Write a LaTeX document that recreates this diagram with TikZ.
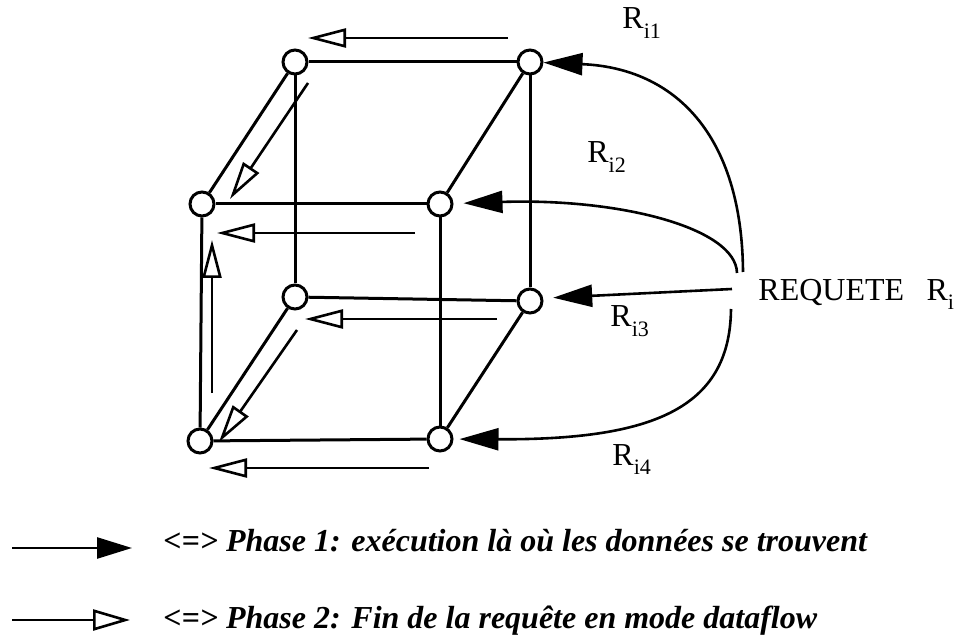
\documentclass[tikz,border=0pt]{standalone}
\usepackage{fontspec}
\setmainfont{Liberation Serif}
\usetikzlibrary{arrows.meta}
\newcommand\rsub[1]{\raisebox{-0.3em}{\fontsize{11}{13}\selectfont #1}}
\begin{document}
\begin{tikzpicture}[x=0.5pt,y=-0.5pt,
  vert/.style={circle,draw,fill=white,line width=1.5pt,minimum size=12pt,inner sep=0pt},
  edge/.style={line width=1.5pt},
  phaseone/.style={line width=1.3pt,-{Triangle[length=19.5pt,width=11pt]}},
  phasetwo/.style={line width=1.3pt,-{Triangle[open,length=19pt,width=9.5pt,line width=1.3pt]}},
  lbl/.style={font=\fontsize{16}{19}\selectfont,inner sep=0pt,anchor=base west},
  legtxt/.style={font=\fontsize{16}{19}\selectfont\bfseries\itshape,inner sep=0pt,anchor=base west}]
\useasboundingbox (0,0) rectangle (964,636);
% cube vertices
\node[vert] (btl) at (295,62) {};
\node[vert] (btr) at (530,62) {};
\node[vert] (ftl) at (202,204) {};
\node[vert] (ftr) at (440,204) {};
\node[vert] (bbl) at (295,297) {};
\node[vert] (bbr) at (530,301) {};
\node[vert] (fbl) at (200,441) {};
\node[vert] (fbr) at (440,439) {};
% edges
\draw[edge] (btl) -- (btr);
\draw[edge] (btl) -- (ftl);
\draw[edge] (btl) -- (bbl);
\draw[edge] (btr) -- (ftr);
\draw[edge] (btr) -- (bbr);
\draw[edge] (ftl) -- (ftr);
\draw[edge] (ftl) -- (fbl);
\draw[edge] (ftr) -- (fbr);
\draw[edge] (bbl) -- (bbr);
\draw[edge] (bbl) -- (fbl);
\draw[edge] (bbr) -- (fbr);
\draw[edge] (fbl) -- (fbr);
% phase 2 arrows
\coordinate (a1s) at (508,38);  \coordinate (a1e) at (308,38);
\coordinate (a2s) at (308,83);  \coordinate (a2e) at (230,199);
\coordinate (a3s) at (415,233); \coordinate (a3e) at (217,233);
\coordinate (a4s) at (212,393); \coordinate (a4e) at (212,240);
\coordinate (a5s) at (497,319); \coordinate (a5e) at (305,319);
\coordinate (a6s) at (297,330); \coordinate (a6e) at (219,442);
\coordinate (a7s) at (429,468); \coordinate (a7e) at (209,468);
\foreach \i in {1,...,7} {\draw[phasetwo] (a\i s) -- (a\i e);}
% request
\node[lbl] (req) at (758,300) {REQUETE\hspace{0.7em}R\rsub{i}};
\coordinate (s1) at (743,272);
\coordinate (s2) at (737,273);
\coordinate (s3) at (732,289);
\coordinate (s4) at (731,309);
\draw[phaseone] (s1) .. controls (742,135) and (675,68) .. (btr);
\draw[phaseone,shorten >=5pt] (s2) .. controls (736,228) and (620,198) .. (ftr);
\draw[phaseone,shorten >=5pt] (s3) -- (bbr.12);
\draw[phaseone,shorten >=3pt] (s4) .. controls (730,410) and (650,440) .. (fbr);
% labels
\node[lbl] (r1) at (622,29) {R\rsub{i1}};
\node[lbl] (r2) at (587,163) {R\rsub{i2}};
\node[lbl] (r3) at (610,327) {R\rsub{i3}};
\node[lbl] (r4) at (612,465) {R\rsub{i4}};
% legend
\coordinate (l1s) at (12,548); \coordinate (l1e) at (132,548);
\coordinate (l2s) at (12,620); \coordinate (l2e) at (130,620);
\draw[line width=1.3pt,-{Triangle[length=17.5pt,width=10.5pt]}] (l1s) -- (l1e);
\draw[line width=1.3pt,-{Triangle[open,length=18.5pt,width=10.5pt,line width=1.3pt]}] (l2s) -- (l2e);
\node[legtxt] (t1) at (163,551) {<=> Phase 1: exécution là où les données se trouvent};
\node[legtxt] (t2) at (163,628) {<=> Phase 2: Fin de la requête en mode dataflow};
\end{tikzpicture}
\end{document}
